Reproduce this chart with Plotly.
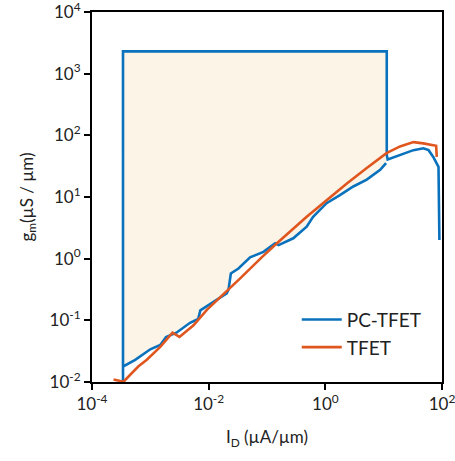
import plotly.graph_objects as go

# ---------------- data ----------------
# PC-TFET, lower branch (inside the highlighted window)
pc_low_x = [3.4e-4, 5.5e-4, 1.0e-3, 1.48e-3, 1.86e-3, 2.8e-3, 4.8e-3, 6.6e-3, 7.2e-3,
            0.012, 0.0204, 0.0219, 0.024, 0.0324, 0.0513, 0.087, 0.138, 0.158, 0.282,
            0.479, 0.617, 1.05, 1.78, 3.02, 5.13, 8.71, 11.0]
pc_low_y = [0.0178, 0.0229, 0.0339, 0.0398, 0.0537, 0.063, 0.0912, 0.105, 0.145,
            0.20, 0.275, 0.316, 0.575, 0.692, 1.05, 1.29, 1.78, 1.66, 2.14,
            3.31, 4.79, 7.94, 10.7, 14.8, 19.1, 27.5, 35.5]
# PC-TFET, upper branch (beyond the window)
pc_high_x = [11.7, 19.1, 32.4, 47.9, 58.9, 70.8, 81.3, 87.1, 90.2]
pc_high_y = [40.7, 47.9, 57.5, 61.7, 57.5, 44.7, 35.5, 30.9, 2.0]

# highlighted window of PC-TFET
box_left = 3.4e-4
box_right = 11.3
box_top = 2300
box_bottom = 0.0105
box_drop = 48

# TFET
tfet_x = [2.34e-4, 3.47e-4, 6.2e-4, 8.7e-4, 1.48e-3, 2.4e-3, 3.16e-3, 5.5e-3, 9.3e-3,
          0.0204, 0.0347, 0.081, 0.148, 0.479, 1.05, 2.34, 5.13, 11.2, 19.1, 32.4,
          47.9, 66.1, 79.4, 81.3]
tfet_y = [0.011, 0.0101, 0.0178, 0.0229, 0.037, 0.063, 0.0537, 0.083, 0.148,
          0.295, 0.479, 1.05, 1.78, 4.79, 8.91, 16.6, 29.5, 51.3, 66.1, 77.6,
          74.1, 69.2, 67.6, 44.7]

x_tickvals = [1e-4, 1e-2, 1e0, 1e2]
x_ticktext = ["10<sup>-4</sup>", "10<sup>-2</sup>", "10<sup>0</sup>", "10<sup>2</sup>"]
y_tickvals = [1e-2, 1e-1, 1e0, 1e1, 1e2, 1e3, 1e4]
y_ticktext = ["10<sup>-2</sup>", "10<sup>-1</sup>", "10<sup>0</sup>", "10<sup>1</sup>",
              "10<sup>2</sup>", "10<sup>3</sup>", "10<sup>4</sup>"]

BLUE = "#0a72bd"
ORANGE = "#e0561f"
FILL = "#fdf4e8"
FONT = "Lato"

fig = go.Figure()

# shaded window
fig.add_trace(go.Scatter(
    x=[box_left] + pc_low_x + [box_right, box_left],
    y=[box_top] + pc_low_y + [box_top, box_top],
    fill="toself", fillcolor=FILL, mode="lines", line=dict(width=0),
    hoverinfo="skip", showlegend=False))

# PC-TFET outline (continuous path)
pc_path_x = pc_low_x[::-1] + [box_left, box_left, box_right, box_right] + pc_high_x
pc_path_y = pc_low_y[::-1] + [box_bottom, box_top, box_top, box_drop] + pc_high_y
fig.add_trace(go.Scatter(x=pc_path_x, y=pc_path_y, mode="lines", name="PC-TFET",
                         line=dict(color=BLUE, width=2.6)))

fig.add_trace(go.Scatter(x=tfet_x, y=tfet_y, mode="lines", name="TFET",
                         line=dict(color=ORANGE, width=2.6)))

axis_common = dict(showline=True, linecolor="black", linewidth=2, mirror=True,
                   ticks="outside", ticklen=6, tickwidth=2, tickcolor="black",
                   showgrid=False, zeroline=False, automargin=False,
                   ticklabeloverflow="allow",
                   tickfont=dict(family=FONT, size=17, color="#222"))

fig.update_xaxes(type="log", range=[-4, 2], tickvals=x_tickvals, ticktext=x_ticktext,
                 title=dict(text="I<sub>D</sub> (µA/µm)", font=dict(family=FONT, size=17, color="#222"),
                            standoff=18),
                 **axis_common)
fig.update_yaxes(type="log", range=[-2, 4], tickvals=y_tickvals, ticktext=y_ticktext,
                 title=dict(text="g<sub>m</sub>(µS / µm)", font=dict(family=FONT, size=17, color="#222"),
                            standoff=12),
                 **axis_common)

fig.update_layout(
    width=455, height=461,
    margin=dict(l=92, r=13, t=12, b=79),
    plot_bgcolor="white", paper_bgcolor="white",
    font=dict(family=FONT, size=17, color="#222"),
    legend=dict(x=0.585, y=0.22, xanchor="left", yanchor="top",
                bgcolor="rgba(0,0,0,0)", font=dict(family=FONT, size=19, color="#222"),
                itemwidth=40, tracegroupgap=0),
)

fig.write_html("out.html", config={"displayModeBar": False},
               post_script="document.body.style.margin='0';")
